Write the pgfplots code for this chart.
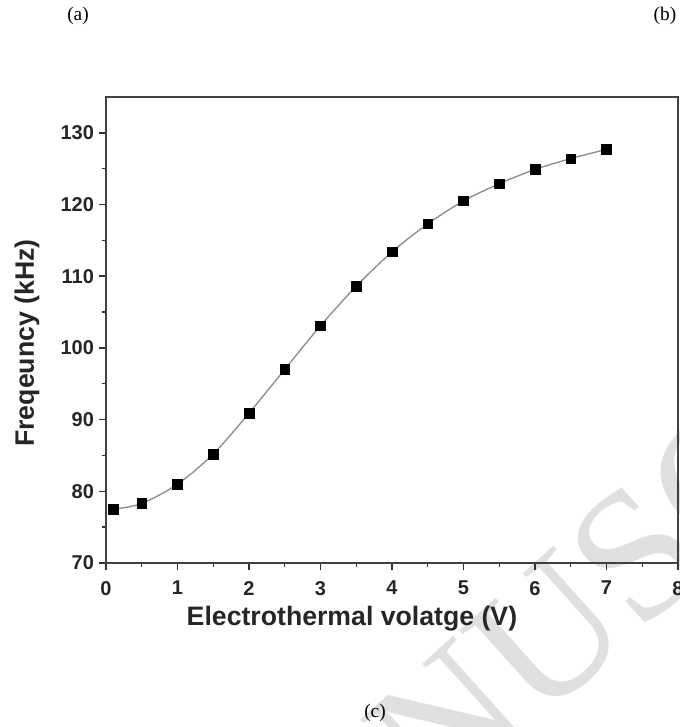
\documentclass[border=0pt]{standalone}
\usepackage{pgfplots}
\pgfplotsset{compat=1.18}
\usepackage{fontspec}
\setmainfont{Liberation Sans}
\newfontfamily\seriffont{Liberation Serif}
\pgfplotstableread{
x y
0.1 77.5
0.5 78.3
1.0 81.0
1.5 85.2
2.0 90.9
2.5 97.0
3.0 103.1
3.5 108.6
4.0 113.4
4.5 117.3
5.0 120.5
5.5 122.9
6.0 124.9
6.5 126.4
7.0 127.7
}\freq
\begin{document}
\begin{tikzpicture}[x=0.75pt,y=0.75pt]
\useasboundingbox (0,0) rectangle (679,727);
% watermark
\node[rotate=42, text=black!12, font=\seriffont\fontsize{140}{140}\selectfont, anchor=base west, inner sep=0pt] at (438,-88) {NUSCRIPT};
% panel labels
\node[font=\seriffont\fontsize{14.5}{16}\selectfont] at (78,711) {(a)};
\node[font=\seriffont\fontsize{14.5}{16}\selectfont] at (665,711) {(b)};
\node[font=\seriffont\fontsize{14.5}{16}\selectfont] at (375,14) {(c)};
\begin{axis}[
  at={(79.5pt,123pt)}, anchor=south west,
  scale only axis, width=429pt, height=349.5pt,
  xmin=0, xmax=8, ymin=70, ymax=135,
  xtick={0,1,...,8}, ytick={70,80,...,130},
  minor x tick num=1, minor y tick num=1,
  xtick pos=bottom, ytick pos=left,
  tick align=outside,
  major tick length=5.5pt, minor tick length=3pt,
  every tick/.style={black!80, line width=1.1pt},
  axis line style={black!75, line width=1.4pt},
  /pgf/number format/assume math mode=true,
  ticklabel style={font=\fontsize{15}{18}\selectfont\bfseries, text=black!85},
  xticklabel style={yshift=-4.5pt},
  xlabel={Electrothermal volatge (V)},
  ylabel={Freqeuncy (kHz)},
  label style={font=\fontsize{20}{24}\selectfont\bfseries, text=black!85},
  xlabel style={at={(axis description cs:0.43,-0.119)}, anchor=center},
  ylabel style={at={(axis description cs:-0.138,0.472)}, anchor=center},
]
\addplot[smooth, black!45, line width=1pt, no markers] table {\freq};
\addplot[only marks, mark=square*, mark size=3.6pt, black] table {\freq};
\end{axis}
\end{tikzpicture}
\end{document}
